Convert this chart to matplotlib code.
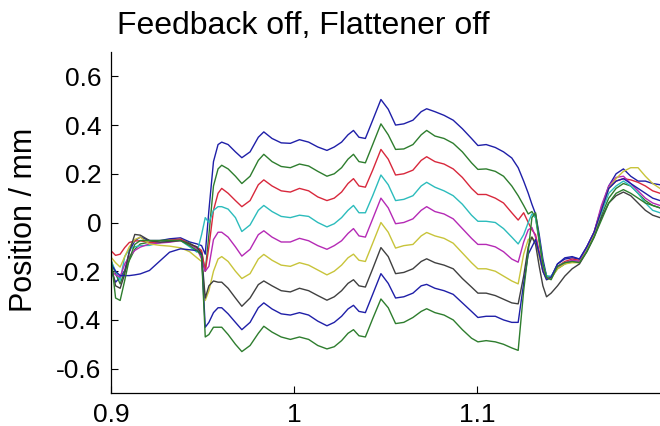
import numpy as np
import matplotlib
matplotlib.use('Agg')
import matplotlib.pyplot as plt

# posicao ao longo da maquina (eixo x) - grade comum para todas as curvas
x_esq = [0.900, 0.9025, 0.905, 0.9075, 0.910, 0.913, 0.916, 0.921, 0.927, 0.932, 0.938, 0.943, 0.947, 0.9495]
x_salto = [0.9515, 0.9535, 0.956, 0.9585]
x_plato = [0.9605, 0.964, 0.968, 0.9715, 0.976, 0.9805, 0.9835, 0.988, 0.993, 0.998,
           1.003, 1.008, 1.013, 1.018, 1.022, 1.026, 1.0295, 1.0325, 1.0355, 1.039,
           1.043, 1.0475, 1.0515, 1.0555, 1.060, 1.065, 1.0695, 1.0725, 1.077, 1.082,
           1.087, 1.092, 1.097, 1.1005, 1.105, 1.110, 1.1145, 1.119, 1.1225]
x_fim = [1.1255, 1.128, 1.130, 1.132, 1.134, 1.136, 1.138, 1.1405]
x_dir = [1.144, 1.148, 1.152, 1.156, 1.160, 1.164, 1.168, 1.172, 1.176, 1.180,
         1.184, 1.188, 1.192, 1.196, 1.200]

# curvas (mm), cada uma: esquerda, salto, plato, fim, direita
azul1 = ([-0.197, -0.245, -0.225, -0.197, -0.12, -0.075, -0.06, -0.074, -0.074, -0.067, -0.063, -0.08, -0.088, -0.095]
         + [-0.13, 0.05, 0.25, 0.32]
         + [0.33, 0.32, 0.29, 0.266, 0.29, 0.35, 0.372, 0.345, 0.327, 0.325,
            0.34, 0.33, 0.31, 0.296, 0.31, 0.33, 0.36, 0.378, 0.35, 0.345,
            0.42, 0.505, 0.465, 0.40, 0.405, 0.42, 0.455, 0.467, 0.455, 0.44,
            0.42, 0.385, 0.345, 0.316, 0.32, 0.308, 0.29, 0.265, 0.225]
         + [0.17, 0.12, 0.075, 0.035, -0.05, -0.15, -0.22, -0.225]
         + [-0.17, -0.15, -0.145, -0.15, -0.1, -0.04, 0.06, 0.15, 0.2, 0.22, 0.19, 0.17, 0.17, 0.16, 0.155])

verde1 = ([-0.156, -0.21, -0.252, -0.20, -0.156, -0.11, -0.088, -0.081, -0.074, -0.072, -0.07, -0.085, -0.104, -0.122]
          + [-0.2, -0.05, 0.15, 0.22]
          + [0.235, 0.22, 0.19, 0.16, 0.19, 0.255, 0.28, 0.25, 0.23, 0.225,
             0.24, 0.232, 0.21, 0.19, 0.20, 0.225, 0.26, 0.28, 0.25, 0.245,
             0.32, 0.405, 0.36, 0.30, 0.302, 0.32, 0.36, 0.378, 0.355, 0.345,
             0.325, 0.29, 0.245, 0.218, 0.22, 0.21, 0.19, 0.15, 0.11]
          + [0.07, 0.035, 0.045, 0.02, -0.08, -0.17, -0.22, -0.225]
          + [-0.19, -0.17, -0.16, -0.16, -0.11, -0.05, 0.03, 0.10, 0.14, 0.16, 0.15, 0.12, 0.09, 0.07, 0.06])

vermelho = ([-0.116, -0.135, -0.13, -0.103, -0.082, -0.076, -0.075, -0.082, -0.082, -0.072, -0.068, -0.089, -0.10, -0.115]
            + [-0.2, -0.1, 0.05, 0.12]
            + [0.14, 0.12, 0.09, 0.065, 0.09, 0.155, 0.175, 0.15, 0.13, 0.125,
               0.14, 0.13, 0.105, 0.09, 0.10, 0.125, 0.16, 0.18, 0.15, 0.145,
               0.215, 0.30, 0.26, 0.195, 0.20, 0.215, 0.255, 0.27, 0.25, 0.24,
               0.22, 0.185, 0.14, 0.115, 0.115, 0.10, 0.08, 0.04, 0.01]
            + [0.04, 0.0, -0.03, -0.05, -0.12, -0.19, -0.23, -0.23]
            + [-0.18, -0.16, -0.15, -0.155, -0.105, -0.04, 0.06, 0.14, 0.17, 0.18, 0.175, 0.165, 0.15, 0.13, 0.12])

ciano = ([-0.156, -0.20, -0.238, -0.14, -0.11, -0.10, -0.095, -0.094, -0.082, -0.074, -0.074, -0.10, -0.122, -0.05]
         + [0.02, 0.0, 0.05, 0.065]
         + [0.065, 0.055, 0.02, -0.037, -0.01, 0.05, 0.07, 0.045, 0.025, 0.02,
            0.03, 0.025, 0.0, -0.018, -0.005, 0.02, 0.05, 0.07, 0.04, 0.04,
            0.11, 0.195, 0.155, 0.09, 0.095, 0.11, 0.15, 0.165, 0.145, 0.13,
            0.11, 0.075, 0.03, 0.005, 0.005, 0.0, -0.025, -0.06, -0.088]
         + [-0.05, 0.0, 0.035, 0.02, -0.07, -0.17, -0.22, -0.22]
         + [-0.18, -0.165, -0.16, -0.16, -0.11, -0.05, 0.04, 0.12, 0.15, 0.17, 0.15, 0.12, 0.08, 0.05, 0.04])

magenta = ([-0.197, -0.215, -0.224, -0.17, -0.14, -0.115, -0.101, -0.088, -0.084, -0.081, -0.074, -0.09, -0.108, -0.15]
           + [-0.2, -0.18, -0.07, -0.04]
           + [-0.04, -0.06, -0.10, -0.138, -0.11, -0.05, -0.034, -0.06, -0.08, -0.08,
              -0.065, -0.075, -0.095, -0.11, -0.095, -0.075, -0.045, -0.025, -0.055, -0.06,
              0.015, 0.10, 0.06, -0.005, 0.0, 0.015, 0.05, 0.065, 0.045, 0.035,
              0.015, -0.025, -0.065, -0.09, -0.09, -0.10, -0.12, -0.15, -0.163]
           + [-0.08, -0.03, -0.02, -0.06, -0.13, -0.2, -0.23, -0.225]
           + [-0.185, -0.165, -0.155, -0.16, -0.1, -0.04, 0.07, 0.15, 0.185, 0.19, 0.16, 0.13, 0.10, 0.08, 0.07])

amarelo = ([-0.142, -0.165, -0.183, -0.14, -0.10, -0.07, -0.06, -0.088, -0.094, -0.097, -0.104, -0.12, -0.145, -0.16]
           + [-0.32, -0.28, -0.2, -0.15]
           + [-0.14, -0.16, -0.20, -0.23, -0.21, -0.15, -0.131, -0.155, -0.175, -0.18,
              -0.165, -0.175, -0.195, -0.215, -0.20, -0.175, -0.145, -0.13, -0.155, -0.16,
              -0.085, 0.0, -0.04, -0.105, -0.095, -0.09, -0.055, -0.041, -0.055, -0.065,
              -0.085, -0.125, -0.165, -0.19, -0.19, -0.20, -0.22, -0.24, -0.252]
           + [-0.13, -0.07, -0.06, -0.08, -0.14, -0.2, -0.235, -0.23]
           + [-0.19, -0.17, -0.165, -0.165, -0.115, -0.05, 0.05, 0.14, 0.18, 0.21, 0.225, 0.225, 0.19, 0.16, 0.14])

preto = ([-0.17, -0.26, -0.27, -0.211, -0.12, -0.049, -0.052, -0.074, -0.081, -0.078, -0.074, -0.088, -0.101, -0.13]
         + [-0.31, -0.26, -0.24, -0.245]
         + [-0.245, -0.27, -0.31, -0.344, -0.31, -0.255, -0.24, -0.26, -0.28, -0.285,
            -0.27, -0.28, -0.30, -0.319, -0.305, -0.28, -0.25, -0.235, -0.26, -0.265,
            -0.19, -0.103, -0.14, -0.21, -0.205, -0.19, -0.16, -0.149, -0.165, -0.175,
            -0.19, -0.23, -0.265, -0.29, -0.29, -0.30, -0.315, -0.33, -0.334]
         + [-0.22, -0.1, -0.06, -0.09, -0.18, -0.26, -0.305, -0.29]
         + [-0.26, -0.22, -0.19, -0.17, -0.12, -0.06, 0.02, 0.08, 0.11, 0.125, 0.11, 0.08, 0.05, 0.03, 0.02])

azul2 = ([-0.17, -0.20, -0.218, -0.218, -0.218, -0.215, -0.211, -0.197, -0.156, -0.122, -0.108, -0.112, -0.115, -0.13]
         + [-0.43, -0.41, -0.37, -0.35]
         + [-0.35, -0.375, -0.41, -0.44, -0.41, -0.35, -0.33, -0.355, -0.375, -0.38,
            -0.37, -0.38, -0.405, -0.424, -0.41, -0.385, -0.355, -0.34, -0.365, -0.37,
            -0.295, -0.21, -0.25, -0.31, -0.305, -0.29, -0.26, -0.254, -0.27, -0.28,
            -0.295, -0.33, -0.365, -0.39, -0.385, -0.385, -0.40, -0.41, -0.41]
         + [-0.25, -0.13, -0.1, -0.07, -0.13, -0.2, -0.235, -0.225]
         + [-0.17, -0.145, -0.14, -0.15, -0.1, -0.04, 0.05, 0.14, 0.17, 0.18, 0.16, 0.14, 0.12, 0.10, 0.09])

verde2 = ([-0.142, -0.31, -0.32, -0.238, -0.15, -0.09, -0.074, -0.074, -0.074, -0.074, -0.074, -0.095, -0.115, -0.136]
          + [-0.47, -0.46, -0.43, -0.43]
          + [-0.43, -0.46, -0.50, -0.53, -0.505, -0.455, -0.426, -0.45, -0.47, -0.48,
             -0.47, -0.48, -0.505, -0.519, -0.51, -0.485, -0.455, -0.44, -0.465, -0.47,
             -0.395, -0.314, -0.35, -0.415, -0.41, -0.39, -0.365, -0.354, -0.37, -0.38,
             -0.40, -0.44, -0.475, -0.49, -0.485, -0.49, -0.50, -0.515, -0.525]
          + [-0.28, -0.12, 0.02, 0.04, -0.07, -0.17, -0.225, -0.235]
          + [-0.18, -0.165, -0.16, -0.165, -0.12, -0.06, 0.01, 0.08, 0.12, 0.135, 0.12, 0.10, 0.08, 0.07, 0.06])

curvas = [azul1, verde1, vermelho, ciano, magenta, amarelo, preto, azul2, verde2]
# cores padrao do matlab (um pouco apagadas, como no jpeg)
cores = ['#1f1fa8', '#2e7d2e', '#d8283c', '#2cbcbc', '#b52ab5', '#c8c43a', '#404040', '#1f1fa8', '#2e7d2e']

x_todos = np.array(x_esq + x_salto + x_plato + x_fim + x_dir)

plt.rcParams['font.family'] = ['Liberation Sans', 'DejaVu Sans']
plt.rcParams['axes.unicode_minus'] = False

fig = plt.figure(figsize=(6.6, 4.26), dpi=100)
ax = fig.add_axes([111 / 660, 33 / 426, 1 - 111 / 660, 341 / 426])

for y, c in zip(curvas, cores):
    ax.plot(x_todos, y, color=c, lw=1.0)

ax.set_xlim(0.9, 1.2)
ax.set_ylim(-0.7, 0.7)
ax.set_xticks([0.9, 1.0, 1.1])
ax.set_xticklabels(['0.9', '1', '1.1'])
ax.set_yticks([-0.6, -0.4, -0.2, 0, 0.2, 0.4, 0.6])
ax.set_yticklabels(['-0.6', '-0.4', '-0.2', '0', '0.2', '0.4', '0.6'])
ax.tick_params(direction='in', length=5, width=0.8, labelsize=19, pad=7)
ax.spines['top'].set_visible(False)
ax.spines['right'].set_visible(False)
for s in ['left', 'bottom']:
    ax.spines[s].set_linewidth(0.9)

fig.text(24 / 660, 1 - 220 / 426, 'Position / mm', rotation=90, ha='center', va='center', fontsize=22)
fig.text(303 / 660, 1 - 34 / 426, 'Feedback off, Flattener off', ha='center', va='baseline', fontsize=23)

fig.savefig('out.png', dpi=100)
